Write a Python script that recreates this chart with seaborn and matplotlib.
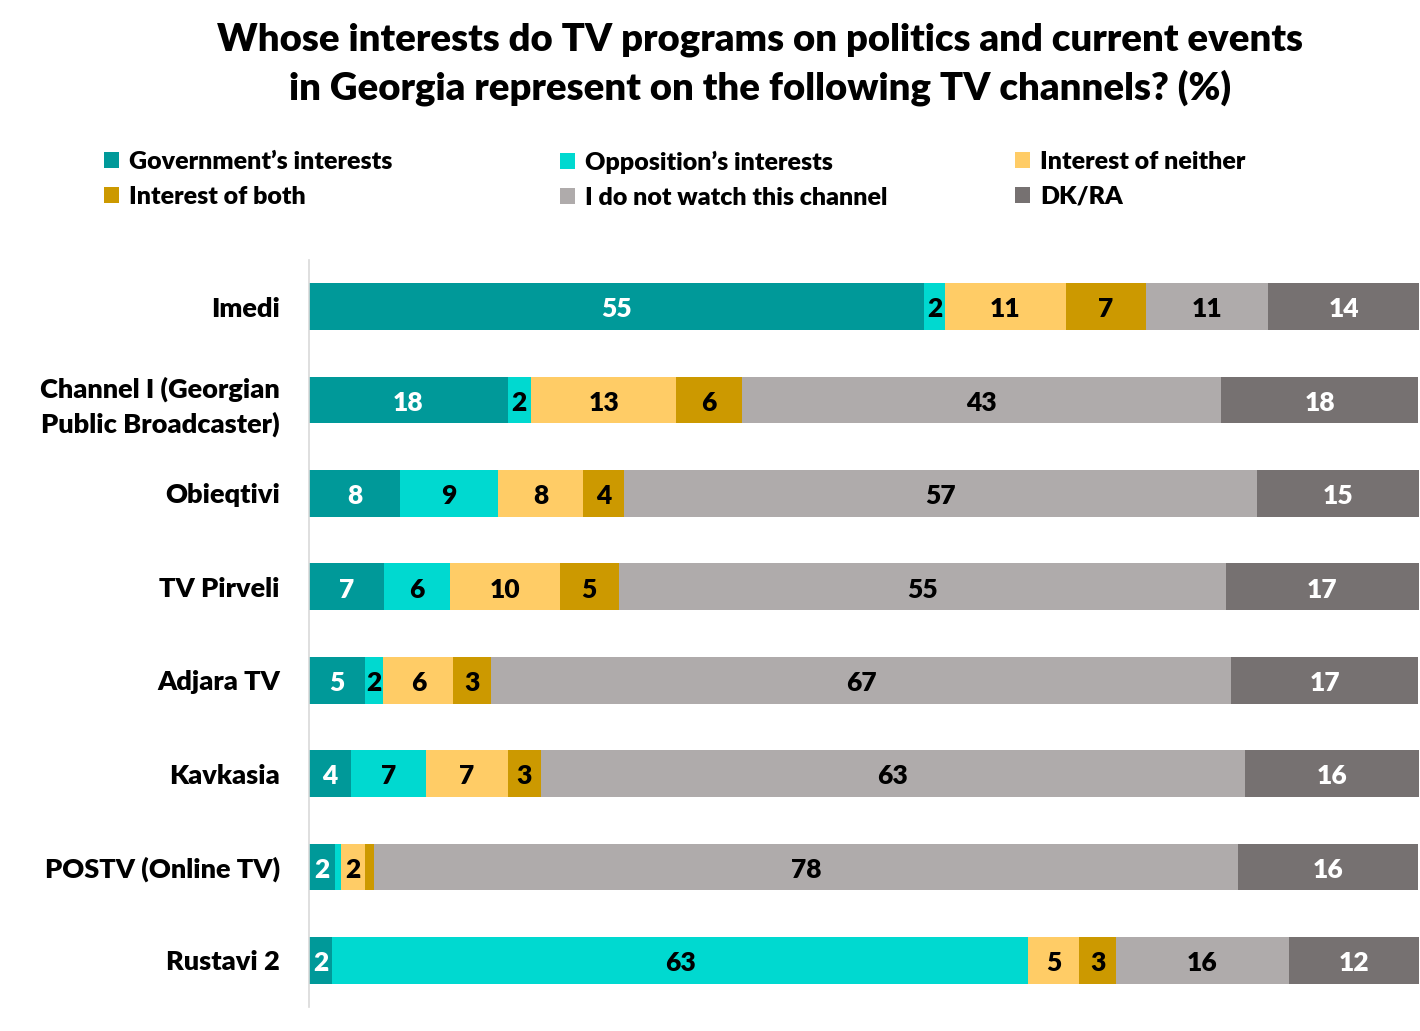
import numpy as np
import pandas as pd
import matplotlib
matplotlib.use("Agg")
import matplotlib.pyplot as plt
from matplotlib.patches import Patch
import seaborn as sns

channels = ["Imedi", "Channel I (Georgian\nPublic Broadcaster)", "Obieqtivi", "TV Pirveli",
            "Adjara TV", "Kavkasia", "POSTV (Online TV)", "Rustavi 2"]
series = ["Government\u2019s interests", "Opposition\u2019s interests", "Interest of neither",
          "Interest of both", "I do not watch this channel", "DK/RA"]
government = [55.4, 17.9, 8.2, 6.8, 5.0, 3.8, 2.3, 2.1]
opposition = [1.9, 2.1, 8.8, 5.9, 1.7, 6.7, 0.6, 62.7]
neither = [10.9, 13.1, 7.7, 9.9, 6.3, 7.4, 2.1, 4.6]
both = [7.2, 5.9, 3.7, 5.3, 3.4, 3.0, 0.9, 3.3]
not_watch = [11.0, 43.2, 57.0, 54.7, 66.7, 63.4, 77.8, 15.6]
dk_ra = [13.6, 17.7, 14.6, 17.4, 16.8, 15.8, 16.2, 11.7]
colors = ["#009999", "#00D9D0", "#FFCC66", "#CC9900", "#AFABAB", "#767171"]
label_colors = ["white", "black", "black", "black", "black", "white"]

sns.set_theme(style="white")
plt.rcParams["font.family"] = ["Lato", "DejaVu Sans"]
plt.rcParams["font.weight"] = "heavy"
plt.rcParams["text.color"] = "black"
plt.rcParams["ytick.color"] = "black"
plt.rcParams["ytick.labelcolor"] = "black"

df = pd.DataFrame({"channel": channels})
vals = [government, opposition, neither, both, not_watch, dk_ra]
for s, v in zip(series, vals):
    df[s] = v
cum = df[series].cumsum(axis=1)

fig = plt.figure(figsize=(14.2, 10.31), dpi=100)
ax = fig.add_axes([309 / 1420, 1 - 1007 / 1031, 1110 / 1420, 747 / 1031])

# stacked bars: draw cumulative totals from the longest down
for i in range(len(series) - 1, -1, -1):
    sns.barplot(x=cum[series[i]], y=df["channel"], orient="h", color=colors[i],
                saturation=1, width=0.5, ax=ax, errorbar=None, linewidth=0)

for i, s in enumerate(series):
    for j in range(len(channels)):
        w = df[s].iloc[j]
        if w < 1.5:
            continue
        start = cum[s].iloc[j] - w
        ax.text(start + w / 2, j + 0.03, str(int(round(w))), ha="center", va="center",
                color=label_colors[i], fontsize=19, fontweight="heavy")

ax.set_xlim(0, 100)
ax.set_ylim(7.5, -0.5)
ax.set_xlabel("")
ax.set_ylabel("")
ax.set_xticks([])
ax.tick_params(axis="y", length=0, pad=21, labelsize=19.5, labelcolor="black")
for lab in ax.get_yticklabels():
    lab.set_fontweight("heavy")
    lab.set_linespacing(1.45)
for sp in ["top", "right", "bottom"]:
    ax.spines[sp].set_visible(False)
ax.spines["left"].set_color("#D9D9D9")
ax.spines["left"].set_linewidth(1.2)

fig.text(0.535, 1 - 64 / 1031, "Whose interests do TV programs on politics and current events\nin Georgia represent on the following TV channels? (%)",
         ha="center", va="center", fontsize=27.5, fontweight="heavy", linespacing=1.4)

# legend: three columns of two entries
xs = [104, 560, 1015]
for c in range(3):
    idx = [c, c + 3]
    handles = [Patch(facecolor=colors[k], edgecolor="none") for k in idx]
    fig.legend(handles, [series[k] for k in idx], loc="upper left",
               bbox_to_anchor=(xs[c] / 1420, 1 - 151 / 1031), frameon=False,
               handlelength=0.6, handleheight=0.6, handletextpad=0.4,
               labelspacing=0.5, borderpad=0, borderaxespad=0,
               prop={"weight": "heavy", "size": 18})

fig.savefig("out.png", dpi=100)
